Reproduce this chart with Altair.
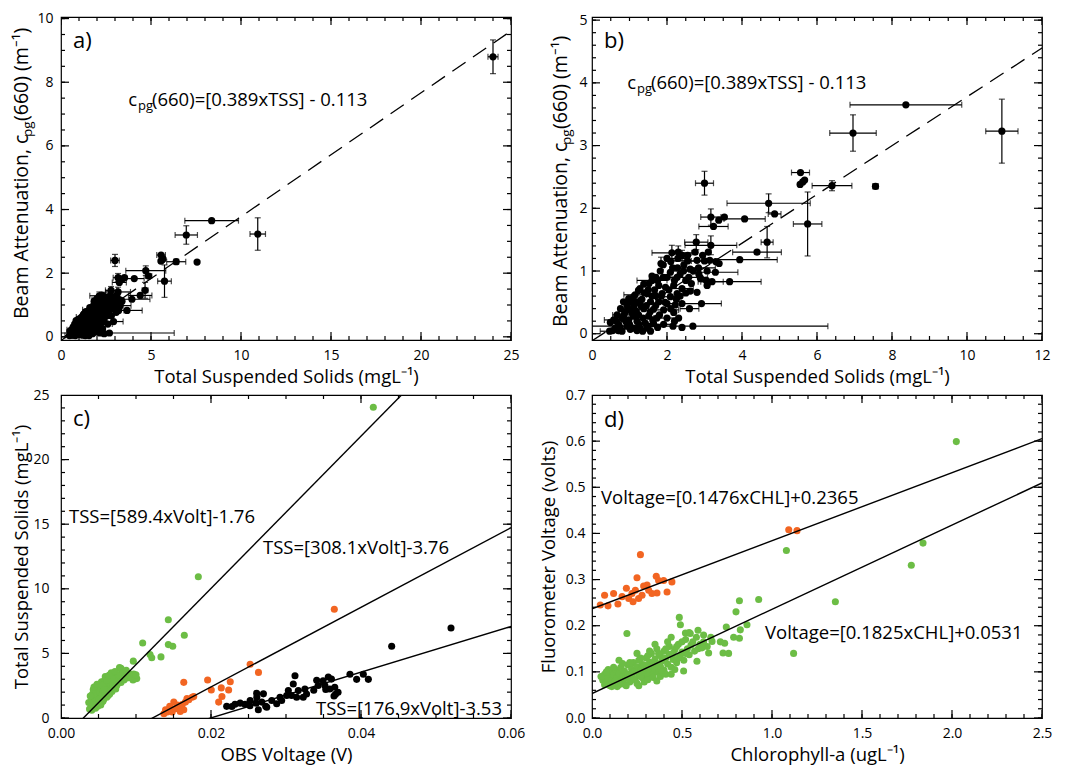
import altair as alt
import pandas as pd

FONT = "Open Sans"
GREEN = "#6cbd45"
ORANGE = "#f26522"
BIG = 18.5

# ---------------- panels a) and b): beam attenuation vs TSS ----------------
# (TSS, c_pg(660), TSS error, c_pg error)
AB_POINTS = [
    (24.00, 8.80, 0.28, 0.53), (8.37, 3.65, 1.49, 0.00), (6.96, 3.20, 0.62, 0.29),
    (10.93, 3.23, 0.43, 0.51), (3.00, 2.40, 0.24, 0.19), (5.56, 2.57, 0.24, 0.00),
    (5.55, 2.38, 0, 0), (5.62, 2.42, 0, 0), (5.67, 2.45, 0, 0),
    (6.40, 2.36, 0.53, 0.08), (7.56, 2.35, 0.07, 0.04), (4.71, 2.08, 1.11, 0.15),
    (5.75, 1.75, 0.38, 0.51), (4.87, 1.91, 0.17, 0), (4.07, 1.83, 0.55, 0),
    (3.17, 1.86, 0.27, 0.13), (3.53, 1.86, 0, 0), (3.38, 1.81, 0, 0),
    (3.24, 1.71, 0.39, 0), (4.67, 1.46, 0.16, 0.25), (2.78, 1.46, 0.31, 0.12),
    (3.17, 1.41, 0.69, 0.15), (4.40, 1.30, 0.65, 0), (3.94, 1.18, 1.00, 0),
    (2.13, 1.29, 0.53, 0.12), (2.69, 0.12, 3.60, 0), (0.47, 0.04, 0.25, 0),
    (3.67, 0.83, 0.84, 0), (2.92, 0.48, 0.53, 0), (3.29, 0.98, 0.60, 0),
    (2.80, 0.66, 0, 0), (1.82, 1.00, 0, 0),
    (2.29, 1.20, 0.30, 0), (2.40, 1.25, 0, 0.08), (2.55, 1.16, 0.40, 0),
    (2.80, 1.17, 0, 0), (3.00, 1.16, 0.35, 0), (3.14, 1.17, 0, 0),
    (3.39, 1.12, 0, 0), (2.84, 1.05, 0.45, 0), (2.62, 1.03, 0, 0),
    (2.28, 1.05, 0, 0), (2.44, 1.00, 0.30, 0), (2.09, 0.98, 0, 0),
    (3.07, 1.00, 0, 0), (2.00, 0.90, 0.25, 0), (2.27, 0.90, 0, 0),
    (2.58, 0.90, 0.50, 0), (2.89, 0.89, 0, 0), (3.20, 0.83, 0.30, 0),
    (1.38, 0.79, 0, 0), (1.60, 0.85, 0.40, 0), (1.78, 0.77, 0, 0),
    (1.96, 0.74, 0, 0), (2.18, 0.77, 0, 0), (2.40, 0.72, 0.30, 0),
    (2.62, 0.68, 0, 0), (3.07, 0.77, 0, 0), (1.24, 0.69, 0, 0),
    (1.47, 0.64, 0, 0), (1.69, 0.61, 0, 0), (1.87, 0.64, 0, 0),
    (2.09, 0.59, 0.20, 0), (2.27, 0.64, 0, 0), (1.11, 0.59, 0, 0),
    (0.98, 0.56, 0, 0), (1.29, 0.53, 0, 0), (1.56, 0.51, 0, 0),
    (1.78, 0.51, 0, 0), (2.00, 0.48, 0.25, 0), (2.22, 0.46, 0, 0),
    (2.40, 0.48, 0, 0), (0.84, 0.51, 0, 0), (0.93, 0.46, 0, 0),
    (1.11, 0.43, 0, 0), (1.38, 0.40, 0, 0), (1.64, 0.39, 0, 0),
    (1.91, 0.38, 0.40, 0), (2.18, 0.34, 0, 0), (0.76, 0.40, 0, 0),
    (0.89, 0.35, 0, 0), (1.07, 0.33, 0, 0), (1.24, 0.30, 0, 0),
    (1.51, 0.28, 0, 0), (1.73, 0.25, 0, 0), (2.00, 0.25, 0.35, 0),
    (2.31, 0.25, 0, 0), (0.67, 0.30, 0, 0), (0.80, 0.25, 0, 0),
    (0.98, 0.22, 0, 0), (1.20, 0.20, 0, 0), (1.42, 0.17, 0, 0),
    (1.64, 0.16, 0, 0), (1.91, 0.15, 0.30, 0), (0.58, 0.22, 0.25, 0),
    (0.49, 0.18, 0, 0), (0.71, 0.15, 0, 0), (0.93, 0.12, 0, 0),
    (1.11, 0.09, 0, 0), (1.29, 0.08, 0, 0), (1.47, 0.09, 0, 0),
    (2.16, 0.12, 0, 0), (0.62, 0.09, 0, 0), (0.80, 0.04, 0, 0),
    (1.02, 0.07, 0, 0), (1.20, 0.05, 0, 0), (1.56, 0.04, 0, 0),
    (1.20, 0.50, 0, 0), (1.50, 0.70, 0, 0), (1.70, 0.90, 0, 0),
    (1.90, 1.10, 0, 0), (2.10, 1.15, 0, 0), (1.00, 0.38, 0, 0),
    (1.30, 0.45, 0, 0), (1.60, 0.60, 0, 0), (2.50, 0.85, 0, 0),
    (2.70, 1.00, 0, 0), (2.35, 0.60, 0, 0), (2.60, 0.40, 0.25, 0),
    (2.20, 0.20, 0, 0),
    (0.55, 0.05, 0, 0), (0.65, 0.20, 0, 0), (0.75, 0.10, 0, 0), (0.85, 0.30, 0.30, 0),
    (0.90, 0.20, 0, 0), (0.95, 0.40, 0, 0), (1.00, 0.15, 0, 0), (1.05, 0.50, 0, 0),
    (1.10, 0.28, 0, 0), (1.15, 0.62, 0.30, 0), (1.18, 0.36, 0, 0), (1.25, 0.15, 0, 0),
    (1.28, 0.72, 0, 0), (1.33, 0.55, 0, 0), (1.36, 0.25, 0, 0), (1.40, 0.65, 0, 0),
    (1.45, 0.45, 0, 0), (1.50, 0.12, 0, 0), (1.52, 0.80, 0, 0), (1.55, 0.35, 0, 0),
    (1.60, 0.92, 0, 0), (1.62, 0.22, 0, 0), (1.67, 0.70, 0, 0), (1.70, 0.45, 0, 0),
    (1.75, 0.85, 0, 0), (1.80, 0.30, 0, 0), (1.84, 1.12, 0, 0.10), (1.85, 0.60, 0, 0),
    (1.90, 0.90, 0, 0), (1.95, 0.50, 0, 0), (2.00, 1.20, 0, 0), (2.05, 0.70, 0, 0),
    (2.10, 0.40, 0, 0), (2.15, 1.05, 0, 0), (2.20, 0.85, 0, 0), (2.25, 0.55, 0, 0),
    (2.30, 1.30, 0, 0.10), (2.35, 0.95, 0, 0), (2.45, 1.10, 0, 0), (2.50, 0.65, 0, 0),
    (2.55, 1.25, 0, 0), (2.65, 0.80, 0, 0), (2.75, 1.30, 0, 0), (2.85, 0.95, 0, 0),
    (2.95, 1.25, 0, 0), (3.05, 0.85, 0, 0), (3.30, 1.15, 0, 0), (3.10, 1.30, 0, 0),
    (0.70, 0.05, 0, 0), (1.35, 0.04, 0, 0), (1.75, 0.10, 0, 0), (2.40, 0.10, 0, 0),
]
AB_FIT = (0.389, -0.113)

# ---------------- panel c): TSS vs OBS voltage ----------------
C_GREEN = [
    (0.0040, 1.05), (0.0041, 1.50), (0.0042, 1.85), (0.0042, 0.85), (0.0043, 2.20),
    (0.0044, 1.25), (0.0045, 1.65), (0.0045, 0.95), (0.0046, 2.05), (0.0047, 1.40),
    (0.0047, 2.45), (0.0048, 1.10), (0.0049, 1.80), (0.0050, 2.20), (0.0050, 1.30),
    (0.0051, 2.60), (0.0052, 1.60), (0.0052, 2.00), (0.0053, 2.35), (0.0054, 1.20),
    (0.0054, 2.80), (0.0055, 1.75), (0.0056, 2.15), (0.0057, 2.50), (0.0057, 1.45),
    (0.0058, 2.90), (0.0059, 1.95), (0.0060, 2.30), (0.0060, 2.65), (0.0061, 1.60),
    (0.0062, 2.10), (0.0062, 3.00), (0.0063, 2.45), (0.0064, 2.75), (0.0065, 1.85),
    (0.0065, 2.30), (0.0066, 3.10), (0.0067, 2.55), (0.0068, 2.05), (0.0068, 2.85),
    (0.0069, 3.20), (0.0070, 2.40), (0.0071, 2.70), (0.0072, 2.95), (0.0073, 2.25),
    (0.0074, 3.10), (0.0075, 2.60), (0.0076, 3.35), (0.0077, 2.85), (0.0078, 3.90),
    (0.0079, 3.05), (0.0080, 2.75), (0.0081, 3.60), (0.0082, 3.25), (0.0084, 2.95),
    (0.0086, 3.40), (0.0088, 3.10), (0.0090, 3.15), (0.0093, 3.30), (0.0096, 2.95),
    (0.0099, 3.20), (0.0101, 3.05),
    (0.0037, 1.20), (0.0038, 0.70), (0.0039, 1.70), (0.0041, 0.60), (0.0043, 1.00),
    (0.0044, 2.40), (0.0046, 0.75), (0.0048, 2.60), (0.0049, 0.90), (0.0051, 1.45),
    (0.0053, 1.00), (0.0055, 2.55), (0.0056, 1.30), (0.0058, 2.20), (0.0059, 3.20),
    (0.0061, 2.90), (0.0063, 1.75), (0.0064, 3.30), (0.0066, 2.10), (0.0067, 3.50),
    (0.0069, 2.60), (0.0070, 3.00), (0.0072, 3.60), (0.0074, 2.50), (0.0076, 2.90),
    (0.0078, 3.30), (0.0080, 3.85), (0.0083, 3.55), (0.0085, 3.10), (0.0087, 3.70),
    (0.0091, 3.45), (0.0094, 3.10), (0.0097, 3.40), (0.0100, 3.35),
    (0.00964, 4.40), (0.01089, 5.81), (0.01187, 4.91), (0.0121, 4.66), (0.01333, 4.73),
    (0.01431, 7.60), (0.0149, 5.55), (0.01431, 5.68), (0.01644, 6.40), (0.01831, 10.93),
    (0.04164, 24.05),
]
C_ORANGE = [
    (0.03644, 8.42), (0.02522, 4.16), (0.02633, 3.53), (0.02257, 2.81), (0.01955, 2.94),
    (0.01637, 2.76), (0.02004, 2.17), (0.02137, 2.33), (0.02235, 2.17), (0.02146, 1.66),
    (0.02102, 1.23), (0.01748, 1.61), (0.01704, 1.41), (0.01659, 1.23), (0.01615, 1.05),
    (0.01571, 0.89), (0.01527, 0.72), (0.01460, 0.59), (0.01416, 0.46), (0.01372, 0.33),
    (0.01637, 0.64), (0.01504, 1.23), (0.01482, 0.46), (0.01394, 0.64), (0.01770, 1.66),
    (0.01550, 1.00), (0.01590, 0.50), (0.01450, 0.90), (0.01680, 1.50),
]
C_BLACK = [
    (0.05200, 6.96), (0.04409, 5.55), (0.03853, 3.38), (0.04031, 3.38), (0.03942, 2.99),
    (0.04098, 2.99), (0.03564, 3.17), (0.03409, 2.92), (0.02279, 0.89), (0.02389, 1.15),
    (0.02522, 1.36), (0.02602, 1.15), (0.02699, 1.87), (0.02677, 1.23), (0.02743, 0.84),
    (0.02810, 1.36), (0.02876, 1.10), (0.02942, 1.36), (0.03009, 1.74), (0.03031, 2.12),
    (0.03097, 2.63), (0.03120, 3.27), (0.03075, 1.74), (0.03142, 1.61), (0.03164, 2.12),
    (0.03230, 1.61), (0.03252, 2.25), (0.03495, 2.89), (0.03518, 2.51), (0.03606, 3.01),
    (0.03584, 2.25), (0.03650, 2.38), (0.03694, 1.99), (0.03429, 2.51), (0.03274, 1.86),
    (0.02920, 1.61), (0.02611, 1.61), (0.02209, 0.90), (0.02320, 1.07), (0.02453, 1.07),
    (0.02520, 0.95), (0.02631, 0.64), (0.02729, 0.90), (0.02609, 1.92), (0.03370, 2.15),
    (0.03530, 2.20), (0.03660, 1.84), (0.03640, 1.70),
]
C_FITS = [(589.4, -1.76), (308.1, -3.76), (176.9, -3.53)]

# ---------------- panel d): fluorometer voltage vs chlorophyll ----------------
D_ORANGE = [
    (1.093, 0.408), (1.139, 0.406), (0.269, 0.354), (0.250, 0.304), (0.357, 0.307),
    (0.370, 0.298), (0.444, 0.295), (0.191, 0.281), (0.306, 0.288), (0.287, 0.286),
    (0.241, 0.277), (0.222, 0.270), (0.120, 0.270), (0.070, 0.266), (0.167, 0.263),
    (0.204, 0.259), (0.259, 0.259), (0.228, 0.252), (0.144, 0.247), (0.089, 0.243),
    (0.046, 0.245), (0.361, 0.271), (0.417, 0.273), (0.333, 0.270), (0.398, 0.298),
    (0.278, 0.266), (0.315, 0.277),
]
D_GREEN = [
    (0.06, 0.082), (0.07, 0.095), (0.08, 0.075), (0.09, 0.088), (0.10, 0.100),
    (0.10, 0.070), (0.11, 0.083), (0.12, 0.094), (0.12, 0.076), (0.13, 0.105),
    (0.14, 0.088), (0.14, 0.068), (0.15, 0.097), (0.16, 0.080), (0.16, 0.110),
    (0.17, 0.091), (0.18, 0.073), (0.18, 0.102), (0.19, 0.086), (0.20, 0.115),
    (0.20, 0.095), (0.21, 0.078), (0.22, 0.106), (0.22, 0.090), (0.23, 0.120),
    (0.24, 0.083), (0.24, 0.099), (0.25, 0.111), (0.26, 0.093), (0.26, 0.125),
    (0.27, 0.104), (0.28, 0.087), (0.28, 0.116), (0.29, 0.098), (0.30, 0.130),
    (0.30, 0.108), (0.31, 0.091), (0.32, 0.121), (0.32, 0.102), (0.33, 0.140),
    (0.33, 0.113), (0.34, 0.095), (0.35, 0.128), (0.35, 0.107), (0.36, 0.150),
    (0.36, 0.118), (0.37, 0.099), (0.38, 0.135), (0.38, 0.112), (0.39, 0.124),
    (0.40, 0.145), (0.40, 0.104), (0.41, 0.130), (0.42, 0.117), (0.43, 0.155),
    (0.43, 0.138), (0.44, 0.110), (0.45, 0.127), (0.46, 0.148), (0.47, 0.120),
    (0.48, 0.160), (0.49, 0.135), (0.50, 0.143), (0.51, 0.125), (0.52, 0.170),
    (0.53, 0.150), (0.54, 0.137), (0.55, 0.158), (0.57, 0.145), (0.58, 0.175),
    (0.60, 0.160), (0.09, 0.105), (0.15, 0.125), (0.25, 0.140), (0.44, 0.175),
    (0.38, 0.090), (0.29, 0.078),
    (0.05, 0.090), (0.07, 0.072), (0.08, 0.100), (0.11, 0.068), (0.12, 0.110),
    (0.13, 0.080), (0.15, 0.072), (0.17, 0.118), (0.19, 0.070), (0.21, 0.120),
    (0.23, 0.085), (0.23, 0.100), (0.25, 0.075), (0.27, 0.130), (0.27, 0.090),
    (0.29, 0.115), (0.31, 0.135), (0.31, 0.083), (0.32, 0.145), (0.34, 0.120),
    (0.34, 0.088), (0.35, 0.160), (0.37, 0.140), (0.37, 0.115), (0.39, 0.100),
    (0.41, 0.150), (0.41, 0.095), (0.42, 0.165), (0.45, 0.140), (0.46, 0.105),
    (0.47, 0.155), (0.48, 0.130), (0.50, 0.165), (0.52, 0.140), (0.54, 0.185),
    (0.56, 0.165), (0.59, 0.150), (0.62, 0.180), (0.64, 0.155), (0.66, 0.175),
    (0.36, 0.080), (0.26, 0.070), (0.44, 0.095),
    (2.024, 0.599), (1.839, 0.379), (1.774, 0.331), (1.080, 0.363), (1.352, 0.252),
    (1.120, 0.140), (0.926, 0.257), (0.819, 0.254), (0.800, 0.230), (0.861, 0.202),
    (0.824, 0.191), (0.819, 0.173), (0.787, 0.175), (0.746, 0.197), (0.194, 0.183),
    (0.485, 0.218), (0.491, 0.202), (0.589, 0.190), (0.519, 0.184), (0.667, 0.166),
    (0.737, 0.162), (0.728, 0.141), (0.759, 0.140), (0.583, 0.123), (0.509, 0.102),
    (0.648, 0.141), (0.611, 0.152), (0.620, 0.165), (0.713, 0.165), (0.546, 0.183),
]
D_FITS = [(0.1476, 0.2365), (0.1825, 0.0531)]

# ---------------- axis ticks ----------------
A_XT, A_YT = [0, 5, 10, 15, 20, 25], [0, 2, 4, 6, 8, 10]
B_XT, B_YT = [0, 2, 4, 6, 8, 10, 12], [0, 1, 2, 3, 4, 5]
C_XT, C_YT = [0.0, 0.02, 0.04, 0.06], [0, 5, 10, 15, 20, 25]
D_XT, D_YT = [0.0, 0.5, 1.0, 1.5, 2.0, 2.5], [0.0, 0.1, 0.2, 0.3, 0.4, 0.5, 0.6, 0.7]


def minor(lo, hi, step):
    n = int(round((hi - lo) / step))
    return [round(lo + i * step, 6) for i in range(n + 1)]


W, H = 450, 323


def X(f, s):
    return alt.X(f, type="quantitative", scale=s, axis=None)


def Y(f, s):
    return alt.Y(f, type="quantitative", scale=s, axis=None)


def text_at(txt, px, py, size=BIG, align="left", angle=0, baseline="middle"):
    mk = dict(text=txt, font=FONT, fontSize=size, align=align, baseline=baseline, color="black")
    if angle:
        mk["angle"] = angle
    return alt.Chart(pd.DataFrame({"k": [0]})).mark_text(**mk).encode(
        x=alt.value(px), y=alt.value(py))


def frame(xd, yd, xmaj, xmin, ymaj, ymin, xfmt, yfmt, xtitle, ytitle, ypad, ytpad):
    sx = alt.Scale(domain=xd, nice=False, zero=False)
    sy = alt.Scale(domain=yd, nice=False, zero=False)
    box = pd.DataFrame({"x": xd, "y": yd})
    common = dict(ticks=False, domain=False, grid=False, labelFlush=False, labelOverlap=False)
    main = alt.Chart(box).mark_point(opacity=0, clip=True).encode(
        x=alt.X("x:Q", scale=sx, axis=alt.Axis(values=xmaj, format=xfmt, labelPadding=8,
                                               title=xtitle, titlePadding=5, **common)),
        y=alt.Y("y:Q", scale=sy, axis=alt.Axis(values=ymaj, format=yfmt, labelPadding=ypad,
                                               title=ytitle, titlePadding=ytpad, **common)))
    # inward tick marks on all four sides (same rule mechanism as the error bars)
    xspan, yspan = xd[1] - xd[0], yd[1] - yd[0]
    ticks = []
    for vals, size in ((xmaj, 8), (xmin, 4)):
        n = len(vals)
        dy = size * yspan / H
        for e0, e1 in ((yd[0], yd[0] + dy), (yd[1], yd[1] - dy)):
            tdf = pd.DataFrame({"tk": vals, "e0": [e0] * n, "e1": [e1] * n})
            ticks.append(alt.Chart(tdf).mark_rule(color="black", strokeWidth=1.2, clip=True)
                         .encode(x=X("tk", sx), y=Y("e0", sy), y2=alt.Y2("e1")))
    for vals, size in ((ymaj, 8), (ymin, 4)):
        n = len(vals)
        dx = size * xspan / W
        for e0, e1 in ((xd[0], xd[0] + dx), (xd[1], xd[1] - dx)):
            tdf = pd.DataFrame({"tk": vals, "e0": [e0] * n, "e1": [e1] * n})
            ticks.append(alt.Chart(tdf).mark_rule(color="black", strokeWidth=1.2, clip=True)
                         .encode(y=Y("tk", sy), x=X("e0", sx), x2=alt.X2("e1")))
    return sx, sy, [main], ticks


def panel_ab(xd, yd, xmaj, xmin, ymaj, ymin, label, ypad, eq_pos, ytitle_pos):
    sx, sy, layers, ticks = frame(xd, yd, xmaj, xmin, ymaj, ymin, "d", "d",
                                  "Total Suspended Solids (mgL\u207b\u00b9)", None, ypad, 0)
    df = pd.DataFrame(AB_POINTS, columns=["tss", "cpg", "xerr", "yerr"])
    fit = pd.DataFrame({"x": [0.0, 25.0]})
    fit["y"] = AB_FIT[0] * fit["x"] + AB_FIT[1]
    line = alt.Chart(fit).mark_line(color="black", strokeWidth=1.3, strokeDash=[16, 9], clip=True).encode(
        x=X("x", sx), y=Y("y", sy))
    xe = alt.Chart(df).transform_filter("datum.xerr > 0").transform_calculate(
        lo="datum.tss - datum.xerr", hi="datum.tss + datum.xerr")
    ye = alt.Chart(df).transform_filter("datum.yerr > 0").transform_calculate(
        lo="datum.cpg - datum.yerr", hi="datum.cpg + datum.yerr")
    st = dict(color="black", clip=True)
    bars = [
        xe.mark_rule(strokeWidth=1.2, **st).encode(x=X("lo", sx), x2=alt.X2("hi"), y=Y("cpg", sy)),
        xe.mark_tick(orient="vertical", size=6, thickness=1.2, **st).encode(x=X("lo", sx), y=Y("cpg", sy)),
        xe.mark_tick(orient="vertical", size=6, thickness=1.2, **st).encode(x=X("hi", sx), y=Y("cpg", sy)),
        ye.mark_rule(strokeWidth=1.2, **st).encode(y=Y("lo", sy), y2=alt.Y2("hi"), x=X("tss", sx)),
        ye.mark_tick(orient="horizontal", size=6, thickness=1.2, **st).encode(y=Y("lo", sy), x=X("tss", sx)),
        ye.mark_tick(orient="horizontal", size=6, thickness=1.2, **st).encode(y=Y("hi", sy), x=X("tss", sx)),
    ]
    pts = alt.Chart(df).mark_circle(size=52, opacity=1, **st).encode(x=X("tss", sx), y=Y("cpg", sy))
    ex, ey = eq_pos
    tx, ty = ytitle_pos
    tsz = 19.5
    texts = [
        text_at(label + ")", 12, 24, size=22),
        text_at("c", ex, ey, align="right"),
        text_at("pg", ex + 1, ey + 6, size=13),
        text_at("(660)=[0.389xTSS] - 0.113", ex + 15, ey),
        text_at("Beam Attenuation, c", tx, ty, align="left", angle=270, size=tsz),
        text_at("pg", tx + 6, ty - 182, size=13.5, angle=270),
        text_at("(660) (m\u207b\u00b9)", tx, ty - 198, angle=270, size=tsz),
    ]
    return alt.layer(*layers, line, *bars, pts, *ticks, *texts).resolve_axis(
        x="independent", y="independent").properties(width=W, height=H)


pa = panel_ab([0, 25], [-0.1, 10.05], A_XT, minor(0, 25, 1), A_YT, minor(0, 10, 0.5),
              "a", 8, (76, 83), (-39, 302))
pb = panel_ab([0, 12], [-0.1, 5.05], B_XT, minor(0, 12, 0.5), B_YT, minor(0, 5, 0.2),
              "b", 5, (44, 66), (-31, 310))

# panel c
sx, sy, c_layers, c_ticks = frame([0, 0.06], [0, 25], C_XT, minor(0, 0.06, 0.005), C_YT, minor(0, 25, 1),
                                  ".2f", "d", "OBS Voltage (V)", "Total Suspended Solids (mgL\u207b\u00b9)", 12, 1)
c_parts = []
for pts_list, col in [(C_GREEN, GREEN), (C_ORANGE, ORANGE), (C_BLACK, "black")]:
    d = pd.DataFrame(pts_list, columns=["v", "tss"])
    c_parts.append(alt.Chart(d).mark_circle(size=50, opacity=1, color=col, clip=True).encode(
        x=X("v", sx), y=Y("tss", sy)))
fit_rows = []
for i, (m, b) in enumerate(C_FITS):
    for xv in (0.0, 0.06):
        fit_rows.append({"g": i, "x": xv, "y": m * xv + b})
c_line = alt.Chart(pd.DataFrame(fit_rows)).mark_line(color="black", strokeWidth=1.4, clip=True).encode(
    x=X("x", sx), y=Y("y", sy), detail="g:N")
c_texts = [
    text_at("c)", 12, 24, size=22),
    text_at("TSS=[589.4xVolt]-1.76", 8, 122),
    text_at("TSS=[308.1xVolt]-3.76", 202, 153),
    text_at("TSS=[176.9xVolt]-3.53", 255, 314),
]
pc = alt.layer(*c_layers, *c_parts, c_line, *c_ticks, *c_texts).resolve_axis(
    x="independent", y="independent").properties(width=W, height=H)

# panel d
sx, sy, d_layers, d_ticks = frame([0, 2.5], [0, 0.7], D_XT, minor(0, 2.5, 0.1), D_YT, minor(0, 0.7, 0.02),
                                  ".1f", ".1f", "Chlorophyll-a (ugL\u207b\u00b9)", "Fluorometer Voltage (volts)", 7, 7)
d_parts = []
for pts_list, col in [(D_ORANGE, ORANGE), (D_GREEN, GREEN)]:
    d = pd.DataFrame(pts_list, columns=["chl", "v"])
    d_parts.append(alt.Chart(d).mark_circle(size=50, opacity=1, color=col, clip=True).encode(
        x=X("chl", sx), y=Y("v", sy)))
fit_rows = []
for i, (m, b) in enumerate(D_FITS):
    for xv in (0.0, 2.5):
        fit_rows.append({"g": i, "x": xv, "y": m * xv + b})
d_line = alt.Chart(pd.DataFrame(fit_rows)).mark_line(color="black", strokeWidth=1.4, clip=True).encode(
    x=X("x", sx), y=Y("y", sy), detail="g:N")
d_texts = [
    text_at("d)", 12, 25, size=22),
    text_at("Voltage=[0.1476xCHL]+0.2365", 9, 103),
    text_at("Voltage=[0.1825xCHL]+0.0531", 173, 238),
]
pdd = alt.layer(*d_layers, *d_parts, d_line, *d_ticks, *d_texts).resolve_axis(
    x="independent", y="independent").properties(width=W, height=H)

chart = alt.concat(pa, pb, pc, pdd, columns=2, spacing={"row": 0, "column": 12}, align="each").configure(
    font=FONT, padding={"left": 3, "right": 3, "top": 2, "bottom": 0}
).configure_view(stroke="black", strokeWidth=1.2).configure_axis(
    labelFont=FONT, labelFontSize=14, labelColor="black", titleFont=FONT, titleFontSize=BIG,
    titleColor="black", titleFontWeight="normal", grid=False)

chart.save("out.html", embed_options={"renderer": "svg", "actions": False})
